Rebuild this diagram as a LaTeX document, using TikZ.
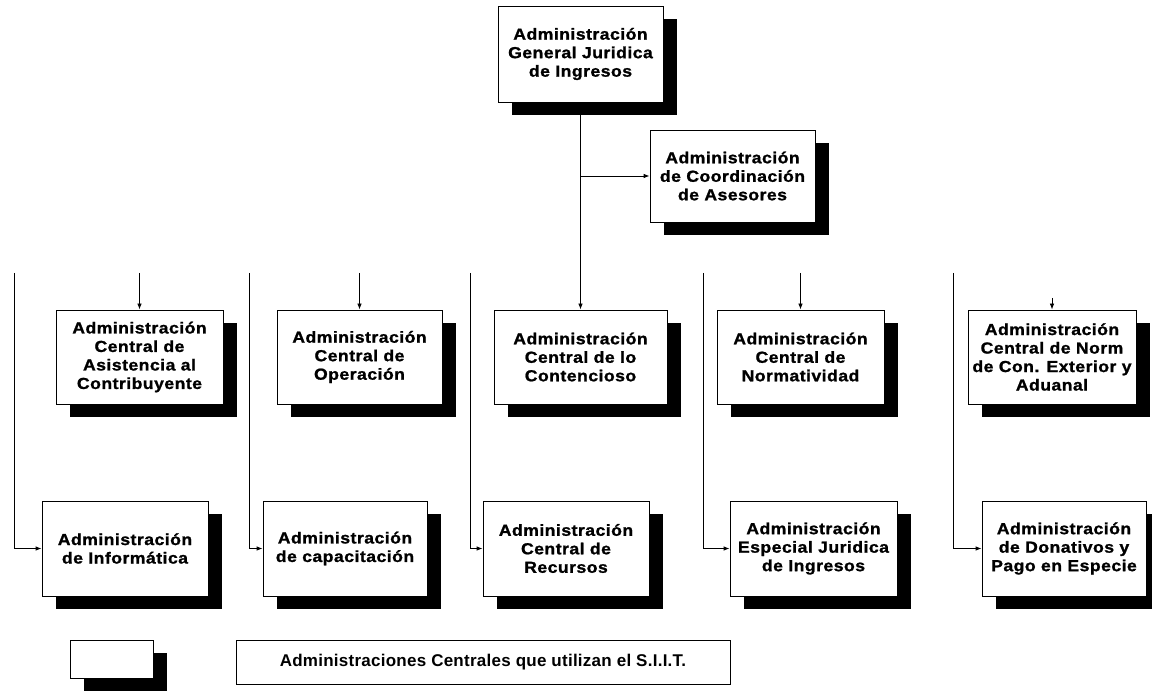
\documentclass[tikz,border=0pt]{standalone}
\usepackage{fontspec}
\setmainfont{Liberation Sans}
\newfontfamily\boxfont[LetterSpace=3,BoldFeatures={FakeStretch=1.1,FakeBold=1.2}]{Liberation Sans}
\newfontfamily\legfont[LetterSpace=1.5]{Liberation Sans}
\usetikzlibrary{arrows.meta,shadows}
\begin{document}
\begin{tikzpicture}[x=1pt,y=-1pt,
  orgbox/.style={draw=black, line width=0.8pt, fill=white, rectangle,
    inner xsep=0pt, inner ysep=2pt, align=center,
    font=\boxfont\bfseries\fontsize{16}{18.5}\selectfont,
    drop shadow={shadow xshift=14pt, shadow yshift=-13pt, fill=black, opacity=1}},
  legtext/.style={draw=black, line width=0.6pt, rectangle, inner sep=0pt,
    font=\legfont\bfseries\fontsize{17}{20}\selectfont},
  conn/.style={draw=black, line width=0.8pt},
  arr/.style={conn, -{Latex[length=6pt,width=4.5pt]}}
]
\useasboundingbox (0,0) rectangle (1152,695);
\fill[white] (0,0) rectangle (1152,695);

% top level
\node[orgbox, minimum width=165pt, minimum height=96pt] (top) at (580.5,54)
  {Administración\\General Juridica\\de Ingresos};
\node[orgbox, minimum width=165pt, minimum height=92pt] (coord) at (732.5,176)
  {Administración\\de Coordinación\\de Asesores};

% row 1
\node[orgbox, minimum width=167pt, minimum height=94pt] (b1) at (139.5,357)
  {Administración\\Central de\\Asistencia al\\Contribuyente};
\node[orgbox, minimum width=165pt, minimum height=94pt] (b2) at (359.5,357)
  {Administración\\Central de\\Operación};
\node[orgbox, minimum width=173pt, minimum height=94pt] (b3) at (580.5,357)
  {Administración\\Central de lo\\Contencioso};
\node[orgbox, minimum width=167pt, minimum height=94pt] (b4) at (800.5,357)
  {Administración\\Central de\\Normatividad};
\node[orgbox, minimum width=168pt, minimum height=94pt] (b5) at (1052,357)
  {Administración\\Central de Norm\\de Con. Exterior y\\Aduanal};

% row 2
\node[orgbox, minimum width=166pt, minimum height=95pt] (b6) at (125,548.5)
  {Administración\\de Informática};
\node[orgbox, minimum width=164pt, minimum height=95pt] (b7) at (345,548.5)
  {Administración\\de capacitación};
\node[orgbox, minimum width=166pt, minimum height=95pt] (b8) at (566,548.5)
  {Administración\\Central de\\Recursos};
\node[orgbox, minimum width=167pt, minimum height=95pt] (b9) at (813.5,548.5)
  {Administración\\Especial Juridica\\de Ingresos};
\node[orgbox, minimum width=164pt, minimum height=95pt] (b10) at (1064,548.5)
  {Administración\\de Donativos y\\Pago en Especie};

% legend
\node[orgbox, minimum width=83pt, minimum height=38pt] (leg) at (111.5,659) {};
\node[legtext, minimum width=494pt, minimum height=44pt] (legt) at (483,662)
  {Administraciones Centrales que utilizan el S.I.I.T.};

% connectors
\draw[arr] (top.south) -- (b3.north);
\draw[arr] (top.south |- coord.west) -- (coord.west);

\coordinate (d1) at (139.5,273);
\coordinate (d2) at (359.5,273);
\coordinate (d4) at (800.5,273);
\coordinate (d5) at (1052,298);
\draw[arr] (d1) -- (b1.north);
\draw[arr] (d2) -- (b2.north);
\draw[arr] (d4) -- (b4.north);
\draw[arr] (d5) -- (b5.north);

\coordinate (l1) at (14,273);
\coordinate (l2) at (249,273);
\coordinate (l3) at (470,273);
\coordinate (l4) at (703,273);
\coordinate (l5) at (953,273);
\draw[arr] (l1) |- (b6.west);
\draw[arr] (l2) |- (b7.west);
\draw[arr] (l3) |- (b8.west);
\draw[arr] (l4) |- (b9.west);
\draw[arr] (l5) |- (b10.west);
\end{tikzpicture}
\end{document}
